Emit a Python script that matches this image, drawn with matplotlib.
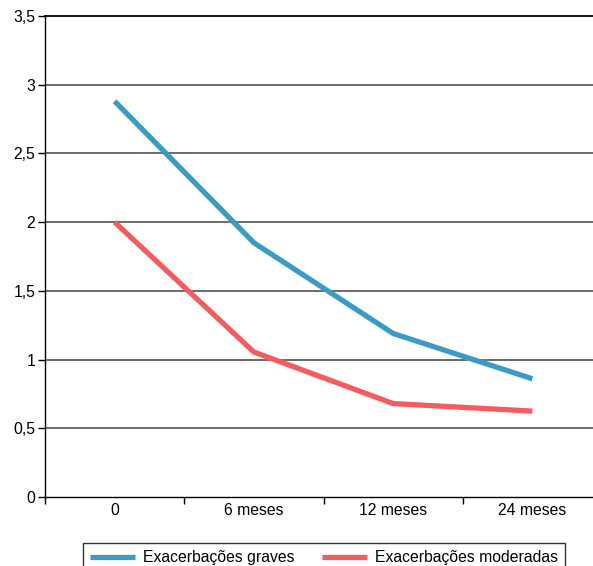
import matplotlib
matplotlib.use("Agg")
import matplotlib.pyplot as plt

categories = ["0", "6 meses", "12 meses", "24 meses"]
graves = [2.88, 1.85, 1.19, 0.86]
moderadas = [2.00, 1.055, 0.68, 0.625]
yticks = [0, 0.5, 1, 1.5, 2, 2.5, 3, 3.5]
ytick_labels = ["0", "0,5", "1", "1,5", "2", "2,5", "3", "3,5"]

plt.rcParams['font.family'] = ['Liberation Sans', 'DejaVu Sans']
FS = 11.3
W, H = 593, 566
fig = plt.figure(figsize=(W/100, H/100), dpi=100)
left, right, top, bottom = 45, 602, 16, 497
ax = fig.add_axes([left/W, 1-bottom/H, (right-left)/W, (bottom-top)/H])

x = list(range(len(categories)))
l1, = ax.plot(x, graves, color="#3a9cc4", lw=3.8, solid_capstyle="butt", label="Exacerbações graves")
l2, = ax.plot(x, moderadas, color="#f45c5e", lw=3.8, solid_capstyle="butt", label="Exacerbações moderadas")

ax.set_xlim(-0.5, 3.5)
ax.set_ylim(0, 3.5)
ax.set_yticks(yticks)
ax.set_yticklabels(ytick_labels, fontsize=FS)
ax.set_xticks(x)
ax.set_xticklabels(categories, fontsize=FS)
ax.tick_params(axis='x', length=0, pad=4)
ax.set_xticks([-0.5, 0.5, 1.5, 2.5, 3.5], minor=True)
ax.tick_params(axis='x', which='minor', length=5, width=1, direction='out')
ax.tick_params(axis='y', length=5, width=1, direction='out', pad=2)

for yv in yticks[1:-1]:
    ax.axhline(yv, color="#444444", lw=1.1, zorder=0)
ax.axhline(3.5, color="black", lw=1.3, zorder=0, clip_on=False)

for s in ["top", "right"]:
    ax.spines[s].set_visible(False)
ax.spines["left"].set_linewidth(1)
ax.spines["bottom"].set_linewidth(1)

leg = fig.legend(handles=[l1, l2], loc="upper left", bbox_to_anchor=(83/W, 1-543/H),
                 ncol=2, fontsize=FS, frameon=True, fancybox=False, handlelength=2.85,
                 handletextpad=0.5, columnspacing=1.8, borderpad=0.45, borderaxespad=0)
leg.get_frame().set_edgecolor("black")
leg.get_frame().set_linewidth(1)

fig.savefig("out.png", dpi=100)
